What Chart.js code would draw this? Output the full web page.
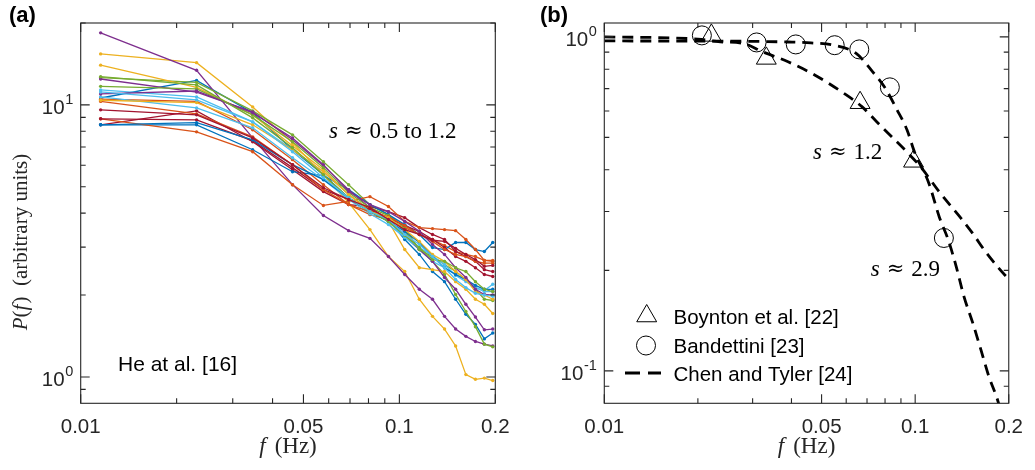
<!DOCTYPE html>
<html><head><meta charset="utf-8">
<script src="https://cdn.jsdelivr.net/npm/chart.js@4.4.0/dist/chart.umd.min.js"></script>
<style>
html,body{margin:0;padding:0;background:#fff;}
#wrap{position:relative;width:1035px;height:470px;background:#fff;}
canvas{position:absolute;left:0;top:0;}
</style></head><body>
<div id="wrap"><canvas id="ca" width="1035" height="470"></canvas><canvas id="cb" width="1035" height="470"></canvas></div>
<script>
// ---------- data ----------
const freqA = [0.01155, 0.0231, 0.03465, 0.0462, 0.05775, 0.0693, 0.08085, 0.0924, 0.10395, 0.1155, 0.12705, 0.1386, 0.15015, 0.1617, 0.17325, 0.1848, 0.19635];
const blue1   = [10.6, 12.3, 9.35, 6.84, 5.54, 4.56, 4.05, 3.79, 3.20, 2.82, 2.44, 2.24, 1.93, 1.70, 1.56, 1.38, 1.45];
const orange1 = [10.5, 10.3, 8.10, 6.29, 5.09, 4.30, 3.95, 3.79, 3.54, 3.34, 3.20, 3.04, 2.89, 2.82, 2.77, 2.68, 2.66];
const yellow1 = [15.4, 14.3, 9.83, 7.26, 5.54, 4.37, 3.48, 2.77, 2.44, 1.93, 1.67, 1.50, 1.30, 1.02, 0.98, 0.99, 0.97];
const purple1 = [18.4, 13.4, 7.56, 5.09, 3.92, 3.45, 3.23, 2.77, 2.38, 2.10, 1.93, 1.67, 1.50, 1.41, 1.35, 1.32, 1.30];
const green1  = [12.6, 12.1, 9.51, 7.76, 6.18, 5.09, 4.30, 3.95, 3.54, 2.94, 2.66, 2.38, 2.01, 1.74, 1.53, 1.32, 1.29];
const lblue1  = [11.35, 10.7, 8.66, 6.84, 5.68, 4.68, 4.12, 3.73, 3.26, 2.94, 2.66, 2.52, 2.38, 2.28, 2.13, 2.08, 2.19];
const dred1   = [8.45, 9.51, 7.32, 5.78, 4.80, 4.30, 4.23, 4.05, 3.85, 3.54, 3.34, 3.20, 2.89, 2.77, 2.66, 2.48, 2.44];
const blue2   = [8.45, 8.45, 6.84, 5.68, 5.50, 4.88, 4.30, 3.95, 3.63, 3.34, 2.99, 2.94, 3.12, 3.12, 2.94, 2.89, 3.12];
const orange2 = [8.89, 7.96, 6.73, 5.09, 4.27, 4.42, 4.60, 4.23, 3.73, 3.54, 3.51, 3.48, 3.45, 3.20, 2.94, 2.68, 2.68];
const yellow2 = [14.0, 11.6, 9.19, 7.08, 5.78, 4.68, 4.12, 3.73, 2.94, 2.52, 2.48, 2.44, 2.24, 2.10, 1.93, 1.85, 1.71];
const purple2 = [12.45, 11.15, 9.43, 7.44, 5.98, 4.88, 4.19, 3.79, 3.34, 2.94, 2.66, 2.32, 2.10, 1.85, 1.66, 1.49, 1.50];
const green2  = [11.7, 11.45, 9.19, 7.32, 5.88, 4.76, 4.19, 3.92, 3.43, 2.94, 2.77, 2.59, 2.44, 2.28, 2.10, 1.93, 1.91];
const lblue2  = [10.7, 9.75, 8.24, 6.39, 5.31, 4.49, 3.98, 3.63, 3.26, 2.99, 2.79, 2.59, 2.36, 2.24, 2.13, 2.06, 2.06];
const dred2   = [8.89, 8.81, 7.38, 5.88, 4.88, 4.49, 4.12, 3.85, 3.60, 3.43, 3.20, 2.99, 2.77, 2.66, 2.52, 2.38, 2.34];
const blue3   = [8.45, 8.6, 7.44, 6.03, 5.31, 4.56, 4.05, 3.73, 3.43, 3.12, 2.77, 2.52, 2.38, 2.28, 2.17, 2.10, 2.10];
const orange3 = [10.3, 9.27, 7.63, 6.03, 4.88, 4.30, 4.05, 3.88, 3.60, 3.34, 3.15, 2.94, 2.82, 2.77, 2.66, 2.62, 2.62];
const yellow3 = [10.4, 10.2, 8.45, 6.84, 5.68, 4.68, 4.05, 3.85, 3.48, 3.15, 2.82, 2.66, 2.44, 2.28, 2.06, 2.00, 1.93];
const purple3 = [10.97, 11.25, 9.35, 7.56, 6.03, 4.80, 4.30, 4.05, 3.73, 3.43, 3.07, 2.82, 2.52, 2.32, 2.10, 2.01, 2.00];
const green3  = [12.7, 11.84, 8.96, 6.96, 5.54, 4.56, 4.05, 3.73, 3.31, 2.99, 2.70, 2.66, 2.52, 2.44, 2.24, 2.10, 2.06];
const lblue3  = [11.16, 10.43, 8.66, 6.73, 5.40, 4.56, 4.05, 3.79, 3.34, 3.07, 2.77, 2.52, 2.28, 2.13, 2.03, 2.00, 1.98];
const dred3   = [9.59, 9.19, 7.56, 6.03, 4.96, 4.49, 4.19, 3.79, 3.48, 3.34, 3.18, 3.15, 2.97, 2.82, 2.70, 2.55, 2.57];

const boyntonF = [0.0221, 0.0332, 0.0665, 0.0988];
const boyntonP = [1.01, 0.862, 0.635, 0.424];
const bandF = [0.0206, 0.0309, 0.0413, 0.0551, 0.0661, 0.0829, 0.1237];
const bandP = [1.01, 0.962, 0.949, 0.944, 0.917, 0.706, 0.25];
const chen12F = [0.01, 0.02, 0.0236, 0.028, 0.0323, 0.039, 0.0475, 0.0589, 0.0674, 0.0752, 0.0839, 0.0937, 0.1039, 0.12, 0.1389, 0.1527, 0.168, 0.1875, 0.2];
const chen12P = [1.0, 0.984, 0.966, 0.956, 0.902, 0.842, 0.769, 0.678, 0.618, 0.557, 0.503, 0.454, 0.409, 0.342, 0.29, 0.259, 0.228, 0.201, 0.188];
const chen29F = [0.01, 0.02, 0.0307, 0.039, 0.0462, 0.0546, 0.0646, 0.073, 0.0802, 0.0875, 0.0941, 0.0997, 0.1105, 0.1197, 0.1277, 0.1354, 0.1434, 0.153, 0.1626, 0.1724, 0.1829, 0.187];
const chen29P = [0.972, 0.971, 0.969, 0.965, 0.959, 0.944, 0.892, 0.786, 0.701, 0.604, 0.527, 0.45, 0.366, 0.288, 0.247, 0.206, 0.1675, 0.1397, 0.116, 0.0966, 0.0834, 0.078];

const xTickVals = [0.01, 0.05, 0.1, 0.2];
const xTickLabels = ['0.01', '0.05', '0.1', '0.2'];
const xMinor = [0.02, 0.03, 0.04, 0.06, 0.07, 0.08, 0.09];
const yTickValsA = [1, 10];
const yTickExpA = ['0', '1'];
const yMinorA = [0.9, 2, 3, 4, 5, 6, 7, 8, 9, 20];
const yTickValsB = [0.1, 1];
const yTickExpB = ['-1', '0'];
const yMinorB = [0.09, 0.2, 0.3, 0.4, 0.5, 0.6, 0.7, 0.8, 0.9];

// ---------- style ----------
const SANS = "'Liberation Sans', Arial, Helvetica, sans-serif";
const SERIF = "'Liberation Serif', 'Times New Roman', serif";
const APPROX = "21px 'DejaVu Serif', 'Liberation Serif', serif";
const AX = '#262626';
const C = {blue:'#0072BD', orange:'#D95319', yellow:'#EDB120', purple:'#7E2F8E', green:'#77AC30', lblue:'#4DBEEE', dred:'#A2142F'};

const seriesA = [
  [blue1, C.blue], [orange1, C.orange], [yellow1, C.yellow], [purple1, C.purple], [green1, C.green], [lblue1, C.lblue], [dred1, C.dred],
  [blue2, C.blue], [orange2, C.orange], [yellow2, C.yellow], [purple2, C.purple], [green2, C.green], [lblue2, C.lblue], [dred2, C.dred],
  [blue3, C.blue], [orange3, C.orange], [yellow3, C.yellow], [purple3, C.purple], [green3, C.green], [lblue3, C.lblue], [dred3, C.dred]
];

function pts(xs, ys) { return xs.map((x, i) => ({x: x, y: ys[i]})); }

function drawRuns(ctx, runs, x, y, align) {
  let total = 0;
  runs.forEach(r => { ctx.font = r.font; total += ctx.measureText(r.t).width + (r.gap || 0); });
  let cx = align === 'center' ? x - total / 2 : (align === 'right' ? x - total : x);
  ctx.textAlign = 'left';
  runs.forEach(r => { ctx.font = r.font; ctx.fillText(r.t, cx, y + (r.dy || 0)); cx += ctx.measureText(r.t).width + (r.gap || 0); });
}
function sApprox(val) {
  return [{t: 's', font: 'italic 23px ' + SERIF, gap: 7}, {t: '\u2248', font: APPROX, gap: 7, dy: -1}, {t: val, font: '23px ' + SERIF}];
}

function makeFrame(yMaj, yMin, yExp) {
  return {
    id: 'frame',
    afterDatasetsDraw(chart) {
      const ctx = chart.ctx, a = chart.chartArea, xs = chart.scales.x, ys = chart.scales.y;
      ctx.save();
      ctx.strokeStyle = AX; ctx.lineWidth = 1.1;
      ctx.beginPath();
      const tick = (v, major, horiz) => {
        const len = major ? 9 : 5;
        if (horiz) {
          const p = xs.getPixelForValue(v);
          ctx.moveTo(p, a.bottom); ctx.lineTo(p, a.bottom - len);
          ctx.moveTo(p, a.top); ctx.lineTo(p, a.top + len);
        } else {
          const p = ys.getPixelForValue(v);
          ctx.moveTo(a.left, p); ctx.lineTo(a.left + len, p);
          ctx.moveTo(a.right, p); ctx.lineTo(a.right - len, p);
        }
      };
      xTickVals.forEach(v => tick(v, true, true));
      xMinor.forEach(v => tick(v, false, true));
      yMaj.forEach(v => tick(v, true, false));
      yMin.forEach(v => tick(v, false, false));
      ctx.stroke();
      ctx.strokeRect(a.left, a.top, a.right - a.left, a.bottom - a.top);
      // y tick labels: 10 with superscript exponent, placed by the y scale
      ctx.fillStyle = AX; ctx.textBaseline = 'alphabetic'; ctx.textAlign = 'right';
      yMaj.forEach((v, i) => {
        const p = ys.getPixelForValue(v);
        const xr = a.left - 7.5;
        ctx.font = '14.5px ' + SANS;
        const ew = ctx.measureText(yExp[i]).width;
        ctx.fillText(yExp[i], xr, p - 0.5);
        ctx.font = '20.5px ' + SANS;
        ctx.fillText('10', xr - ew - 0.5, p + 9);
      });
      ctx.restore();
    }
  };
}

function xScale() {
  return {
    type: 'logarithmic', position: 'bottom', min: 0.01, max: 0.2,
    afterBuildTicks: s => { s.ticks = xTickVals.map(v => ({value: v})); },
    afterFit: s => { s.height = 66.7; },
    ticks: { callback: (v, i) => xTickLabels[i], font: {family: SANS, size: 20.5}, color: AX, padding: 12, maxRotation: 0, autoSkip: false },
    grid: { display: false, drawTicks: false },
    border: { display: false }
  };
}
function yScale(min, max, vals, width) {
  return {
    type: 'logarithmic', position: 'left', min: min, max: max,
    afterBuildTicks: s => { s.ticks = vals.map(v => ({value: v})); },
    afterFit: s => { s.width = width; },
    ticks: { display: false },
    grid: { display: false, drawTicks: false },
    border: { display: false }
  };
}

const textA = {
  id: 'textA',
  afterDraw(chart) {
    const ctx = chart.ctx, a = chart.chartArea;
    ctx.save(); ctx.fillStyle = '#000'; ctx.textBaseline = 'alphabetic';
    ctx.font = 'bold 22px ' + SANS; ctx.textAlign = 'left'; ctx.fillText('(a)', 9, 22);
    drawRuns(ctx, sApprox('0.5 to 1.2'), 329, 137.5, 'left');
    ctx.font = '21px ' + SANS; ctx.fillText('He at al. [16]', 118, 371);
    ctx.fillStyle = '#262626';
    drawRuns(ctx, [{t: 'f', font: 'italic 23px ' + SERIF, gap: 9}, {t: '(Hz)', font: '23px ' + SERIF}], (a.left + a.right) / 2, 453, 'center');
    ctx.translate(27, 242); ctx.rotate(-Math.PI / 2);
    drawRuns(ctx, [{t: 'P', font: 'italic 21px ' + SERIF}, {t: '(', font: '21px ' + SERIF}, {t: 'f', font: 'italic 21px ' + SERIF, gap: 1}, {t: ')  (arbitrary units)', font: '21px ' + SERIF}], 0, 0, 'center');
    ctx.restore();
  }
};

const textB = {
  id: 'textB',
  afterDraw(chart) {
    const ctx = chart.ctx, a = chart.chartArea;
    ctx.save(); ctx.fillStyle = '#000'; ctx.textBaseline = 'alphabetic';
    ctx.font = 'bold 22px ' + SANS; ctx.textAlign = 'left'; ctx.fillText('(b)', 540, 22);
    drawRuns(ctx, sApprox('1.2'), 813, 158.5, 'left');
    drawRuns(ctx, sApprox('2.9'), 940, 276, 'right');
    ctx.fillStyle = '#262626';
    drawRuns(ctx, [{t: 'f', font: 'italic 23px ' + SERIF, gap: 9}, {t: '(Hz)', font: '23px ' + SERIF}], (a.left + a.right) / 2, 453, 'center');
    // legend
    const H = Chart.helpers;
    ctx.strokeStyle = '#000'; ctx.fillStyle = 'rgba(0,0,0,0)'; ctx.lineWidth = 1;
    H.drawPoint(ctx, {pointStyle: 'triangle', radius: 11.5, borderWidth: 1, rotation: 0}, 646.7, 316);
    H.drawPoint(ctx, {pointStyle: 'circle', radius: 9.5, borderWidth: 1, rotation: 0}, 646, 345.5);
    ctx.beginPath(); ctx.lineWidth = 2.8; ctx.setLineDash([15, 8]); ctx.moveTo(625, 373); ctx.lineTo(661, 373); ctx.stroke(); ctx.setLineDash([]);
    ctx.fillStyle = '#000'; ctx.font = '20.5px ' + SANS; ctx.textAlign = 'left';
    ctx.fillText('Boynton et al. [22]', 673.5, 324.3);
    ctx.fillText('Bandettini [23]', 673.5, 352.7);
    ctx.fillText('Chen and Tyler [24]', 673.5, 380.9);
    ctx.restore();
  }
};

const common = {
  responsive: false, animation: false, events: [],
  plugins: { legend: {display: false}, tooltip: {enabled: false} }
};

new Chart(document.getElementById('ca'), {
  type: 'line',
  data: {
    datasets: seriesA.map((s, i) => ({
      data: pts(freqA, s[0]), borderColor: s[1], backgroundColor: s[1],
      borderWidth: 1.3, pointRadius: 1.7, pointBorderWidth: 0, pointHoverRadius: 0,
      tension: 0, fill: false, order: seriesA.length - i
    }))
  },
  options: Object.assign({}, common, {
    layout: { padding: {left: 0, top: 23, right: 539.7, bottom: 0} },
    scales: { x: xScale(), y: yScale(0.8, 20, yTickValsA, 80.7) }
  }),
  plugins: [makeFrame(yTickValsA, yMinorA, yTickExpA), textA]
});

new Chart(document.getElementById('cb'), {
  type: 'line',
  data: {
    datasets: [
      { data: pts(chen12F, chen12P), borderColor: '#000', borderWidth: 2.8, borderDash: [11, 7], pointRadius: 0, fill: false, cubicInterpolationMode: 'monotone', order: 3 },
      { data: pts(chen29F, chen29P), borderColor: '#000', borderWidth: 2.8, borderDash: [11, 7], pointRadius: 0, fill: false, cubicInterpolationMode: 'monotone', order: 3 },
      { data: pts(boyntonF, boyntonP), showLine: false, pointStyle: 'triangle', pointRadius: 11.5, pointBorderWidth: 1, borderColor: '#000', backgroundColor: 'rgba(0,0,0,0)', pointHoverRadius: 0, order: 1 },
      { data: pts(bandF, bandP), showLine: false, pointStyle: 'circle', pointRadius: 9.5, pointBorderWidth: 1, borderColor: '#000', backgroundColor: 'rgba(0,0,0,0)', pointHoverRadius: 0, order: 1 }
    ]
  },
  options: Object.assign({}, common, {
    layout: { padding: {left: 544.3, top: 23, right: 15.7, bottom: 0} },
    scales: { x: xScale(), y: yScale(0.08, 1.1, yTickValsB, 60) }
  }),
  plugins: [makeFrame(yTickValsB, yMinorB, yTickExpB), textB]
});
</script>
</body></html>
